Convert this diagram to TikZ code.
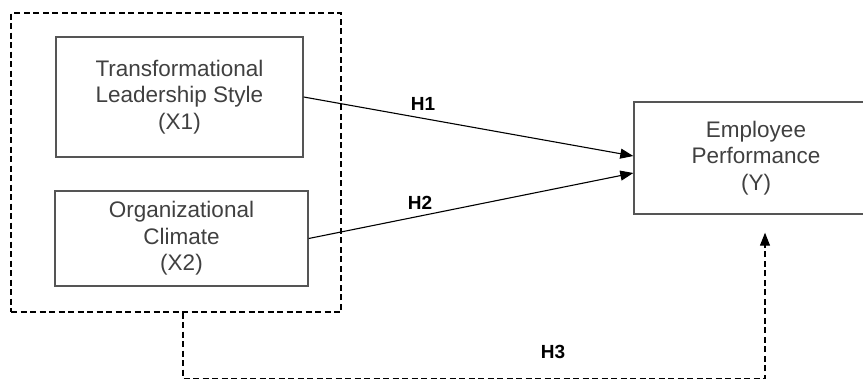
\documentclass[tikz,border=0pt]{standalone}
\usepackage{fontspec}
\setmainfont{Liberation Sans}
\usetikzlibrary{arrows.meta}
\definecolor{boxgray}{HTML}{555555}
\definecolor{textgray}{HTML}{404040}
\tikzset{
    varbox/.style={
        draw=boxgray, line width=1.4pt, text=textgray,
        align=center, inner sep=0pt,
        font=\fontsize{22.5}{26.5}\selectfont
    },
    groupline/.style={draw, line width=1.3pt, dash pattern=on 6pt off 3.5pt},
    hyp/.style={-{Triangle[length=13pt,width=10pt]}, line width=1.1pt},
    hlabel/.style={font=\fontsize{19}{22}\selectfont\bfseries}
}

\begin{document}
\begin{tikzpicture}[x=1pt,y=-1pt]
		\useasboundingbox (0,0) rectangle (863,380);

		% Independent variables
		\node[groupline, minimum width=330pt, minimum height=299pt] (group) at (176,162.5) {};
		\node[varbox, minimum width=247pt, minimum height=120pt] (x1box) at (179.5,97)
			{Transformational\\Leadership Style\\(X1)};
		\node[varbox, minimum width=253pt, minimum height=95pt] (x2box) at (181.5,238.5)
			{Organizational\\Climate\\(X2)};

		% Dependent variable
		\node[varbox, minimum width=244pt, minimum height=112pt] (ybox) at (756,158)
			{Employee\\Performance\\(Y)};

		% Partial hypotheses
		\draw[hyp] (x1box.east) -- ([yshift=2pt]ybox.west);
		\draw[hyp] (x2box.east) -- ([yshift=-15pt]ybox.west);
		\node[hlabel] (h1) at (423,104) {H1};
		\node[hlabel] (h2) at (420,203) {H2};

		% Simultaneous hypothesis
		\coordinate (h3start) at ([xshift=7pt]group.south);
		\coordinate (h3end) at ([xshift=9pt,yshift=-18pt]ybox.south);
		\draw[groupline, hyp] (h3start) -- ++(0,66) -| (h3end);
		\node[hlabel] (h3) at (553,352) {H3};

	\end{tikzpicture}
\end{document}
